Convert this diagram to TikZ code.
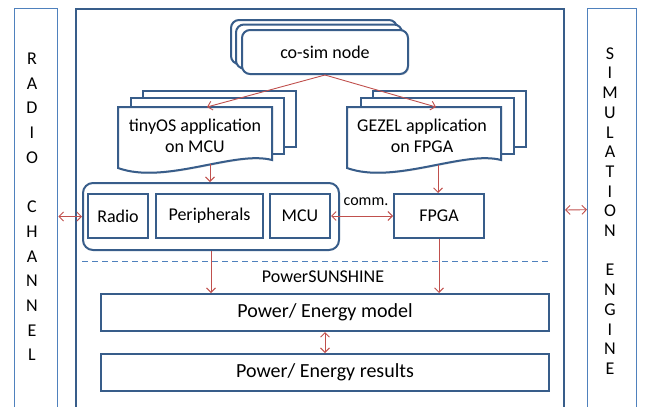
\documentclass[tikz,border=0pt]{standalone}
\usepackage{fontspec}
\setmainfont{Carlito}
\usetikzlibrary{arrows.meta,shadows}
\definecolor{darkblue}{HTML}{385D8A}
\definecolor{paleblue}{HTML}{4F81BD}
\definecolor{arrowred}{HTML}{C0504D}

\begin{document}
\begin{tikzpicture}[x=1pt,y=-1pt,
  font=\fontsize{18}{21}\selectfont,
  box/.style={draw=darkblue, line width=2pt, fill=white, inner sep=0pt,
    drop shadow={shadow xshift=1.2pt, shadow yshift=-1.2pt, opacity=0.25}},
  page/.style={draw=darkblue, line width=2pt, fill=white,
    drop shadow={shadow xshift=1.2pt, shadow yshift=-1.2pt, opacity=0.25}},
  sidebox/.style={draw=paleblue, line width=1.4pt, inner sep=0pt},
  link/.style={draw=arrowred, line width=0.9pt, -{Straight Barb[length=4.5pt,width=9pt]}},
  twoway/.style={link, {Straight Barb[length=4.5pt,width=9pt]}-{Straight Barb[length=4.5pt,width=9pt]}}]
\useasboundingbox (0,0) rectangle (648,407);
\clip (0,0) rectangle (648,407);
% Side panels
\node[sidebox, minimum width=43, minimum height=420, anchor=north west] (radio) at (14,8) {};
\node[align=center, font=\fontsize{18}{24.7}\selectfont] (radiotext) at (32,207)
  {R\\A\\D\\I\\O\\[24.7pt]C\\H\\A\\N\\N\\E\\L};
\node[sidebox, minimum width=49, minimum height=420, anchor=north west] (sim) at (587,8) {};
\node[align=center, font=\fontsize{18}{19.7}\selectfont] (simtext) at (610,211)
  {S\\I\\M\\U\\L\\A\\T\\I\\O\\N\\[19.7pt]E\\N\\G\\I\\N\\E};
% Main frame
\node[draw=darkblue, line width=2pt, minimum width=488, minimum height=420, anchor=north west] (main) at (75,8) {};
% Co-simulation node (stacked)
\foreach \d in {10,5}
  \draw[page, rounded corners=8] (241-\d,29-0.9*\d) rectangle +(166,44);
\node[box, rounded corners=8, minimum width=166, minimum height=44, anchor=north west] (cosim) at (241,29) {co-sim node};
% tinyOS application (document stack)
\foreach \x/\y in {143/91, 131/98}
  \draw[page] (\x,\y) rectangle +(153,56);
\draw[page] (118,107) -- (272,107) -- (272,160) .. controls (235,150) and (165,185) .. (118,168) -- cycle;
\node[align=center] (tinyos) at (195,136) {tinyOS application\\on MCU};
\coordinate (tinyos-in) at (207,107);
\coordinate (tinyos-out) at (210,164);
% GEZEL application (document stack)
\foreach \x/\y in {373/91, 361/98}
  \draw[page] (\x,\y) rectangle +(153,56);
\draw[page] (347,107) -- (501,107) -- (501,160) .. controls (464,150) and (394,185) .. (347,168) -- cycle;
\node[align=center] (gezel) at (422,136) {GEZEL application\\on FPGA};
\coordinate (gezel-in) at (436,107);
\coordinate (gezel-out) at (438,165);
% Hardware blocks
\node[draw=darkblue, line width=2pt, rounded corners=10, minimum width=256, minimum height=67, anchor=north west] (group) at (82,182) {};
\node[box, minimum width=60, minimum height=44, anchor=north west] (radiobox) at (87,193) {Radio};
\node[box, minimum width=107, minimum height=44, anchor=north west] (periph) at (155,193) {Peripherals};
\node[box, minimum width=60, minimum height=44, anchor=north west] (mcu) at (269,193) {MCU};
\node[box, minimum width=90, minimum height=44, anchor=north west] (fpga) at (393,193) {FPGA};
\node[font=\fontsize{16}{18}\selectfont, inner sep=0pt] (comm) at (366,202) {comm.};
% PowerSUNSHINE part
\draw[paleblue, line width=1pt, dash pattern=on 6pt off 4pt] (82,261) -- (550,261);
\node (sunshine) at (323,277) {PowerSUNSHINE};
\node[box, minimum width=448, minimum height=37, anchor=north west, font=\fontsize{20}{24}\selectfont] (model) at (100,293) {Power/ Energy model};
\node[box, minimum width=448, minimum height=37, anchor=north west, font=\fontsize{20}{24}\selectfont] (results) at (100,353) {Power/ Energy results};
% Connections
\draw[link] (cosim.south) -- (tinyos-in);
\draw[link] (cosim.south) -- (gezel-in);
\draw[link] (tinyos-out) -- (tinyos-out |- group.north);
\draw[link] (gezel-out) -- (gezel-out |- fpga.north);
\draw[twoway] (mcu) -- (fpga);
\draw[twoway] (group.west -| radio.east) -- (group.west);
\draw[twoway] ([yshift=9pt]main.east) -- ([yshift=9pt]sim.west);
\draw[link] (group.south) -- (group.south |- model.north);
\draw[link] (fpga.south) -- (fpga.south |- model.north);
\draw[twoway] (model.south) -- (results.north);
\end{tikzpicture}
\end{document}
